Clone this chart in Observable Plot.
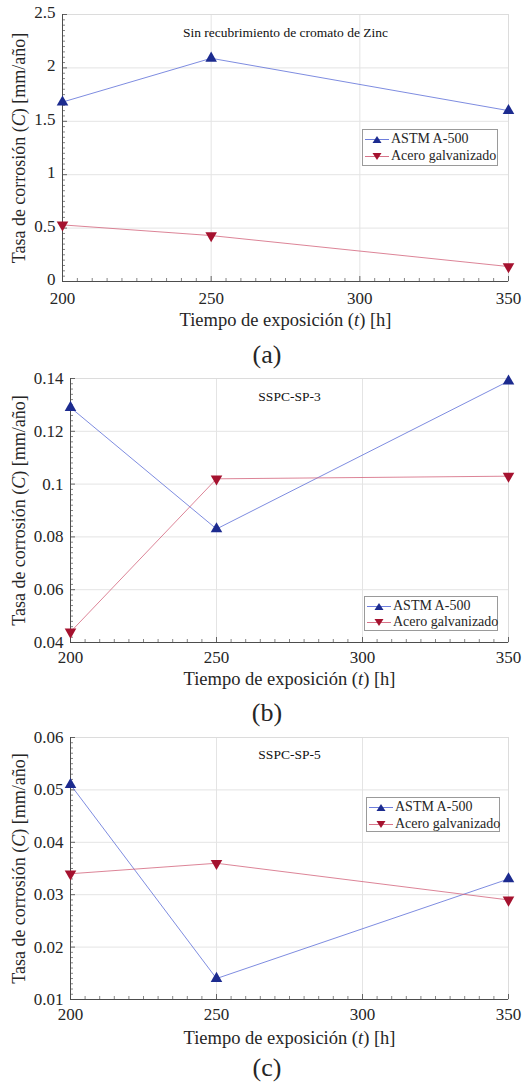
<!DOCTYPE html>
<html>
<head>
<meta charset="utf-8">
<script src="https://cdn.jsdelivr.net/npm/d3@7"></script>
<script src="https://cdn.jsdelivr.net/npm/@observablehq/plot@0.6"></script>
<style>
  html, body { margin: 0; padding: 0; background: #fff; }
  #wrap { position: relative; width: 526px; height: 1085px; font-family: "Liberation Serif", "Times New Roman", "DejaVu Serif", serif; color: #262626; }
  .panel { position: absolute; left: 0; font-family: "Liberation Serif", "Times New Roman", "DejaVu Serif", serif; }
  .caption { position: absolute; left: 0; width: 534px; text-align: center; font-size: 26px; line-height: 26px; }
  .legend { position: absolute; background: #fff; border: 1px solid #9a9a9a; box-sizing: border-box; font-size: 14px; }
  .legend .row { position: absolute; left: 0; height: 17px; display: flex; align-items: center; white-space: nowrap; }
  .legend svg { display: block; }
</style>
</head>
<body>
<div id="wrap"></div>
<script>
// ---- data ----
const times = [200, 250, 350];
const seriesNames = ["ASTM A-500", "Acero galvanizado"];
const xTicks = [200, 250, 300, 350];

const aAstm = [1.68, 2.09, 1.60];
const aGalv = [0.53, 0.43, 0.14];
const aTicks = [0, 0.5, 1, 1.5, 2, 2.5];

const bAstm = [0.129, 0.083, 0.139];
const bGalv = [0.044, 0.102, 0.103];
const bTicks = [0.04, 0.06, 0.08, 0.1, 0.12, 0.14];

const cAstm = [0.051, 0.014, 0.033];
const cGalv = [0.034, 0.036, 0.029];
const cTicks = [0.01, 0.02, 0.03, 0.04, 0.05, 0.06];

const titles = ["Sin recubrimiento de cromato de Zinc", "SSPC-SP-3", "SSPC-SP-5"];
const captions = ["(a)", "(b)", "(c)"];
const xLabel = "Tiempo de exposición (t) [h]";
const yLabel = "Tasa de corrosión (C) [mm/año]";

// ---- styling ----
const FONT = '"Liberation Serif", "Times New Roman", "DejaVu Serif", serif';
const blueLine = "#5d6fd8", blueMark = "#1c2b8f";
const redLine = "#d3647c", redMark = "#a5122f";
const W = 526;

function minorTicks(ticks, n) {
  const out = [];
  for (let i = 0; i < ticks.length - 1; i++) {
    const step = (ticks[i + 1] - ticks[i]) / n;
    for (let k = 1; k < n; k++) out.push(ticks[i] + k * step);
  }
  return out;
}
const fmt = d => String(+d.toFixed(4));

function panel(cfg) {
  const {astm, galv, yTicks, title, top, height, mt, mb, ml, mr, xLabelOffset, yLabelOffset, titleDy, xPad, yDy} = cfg;
  const yDomain = [yTicks[0], yTicks[yTicks.length - 1]];
  const plotH = height - mt - mb;
  const plotW = W - ml - mr;
  const rows = times.map((t, i) => ({t, v: astm[i], s: seriesNames[0]}));
  const rowsG = times.map((t, i) => ({t, v: galv[i], s: seriesNames[1]}));
  const xMinor = minorTicks(xTicks, 10);
  const yMinor = minorTicks(yTicks, 10);
  const chart = Plot.plot({
    width: W, height,
    marginTop: mt, marginBottom: mb, marginLeft: ml, marginRight: mr,
    style: {fontFamily: FONT, fontSize: "17px", background: "transparent", color: "#262626", overflow: "visible"},
    x: {domain: [200, 350]},
    y: {domain: yDomain},
    marks: [
      Plot.gridX(xTicks, {stroke: "#e4e4e4", strokeOpacity: 1}),
      Plot.gridY(yTicks, {stroke: "#e4e4e4", strokeOpacity: 1}),
      Plot.frame({stroke: "#dcdcdc"}),
      Plot.ruleX(xMinor, {stroke: "#666", strokeWidth: 0.8, insetTop: plotH - 3}),
      Plot.ruleX(xTicks, {stroke: "#555", strokeWidth: 0.9, insetTop: plotH - 5}),
      Plot.ruleY(yMinor, {stroke: "#666", strokeWidth: 0.8, insetRight: plotW - 3}),
      Plot.ruleY(yTicks, {stroke: "#555", strokeWidth: 0.9, insetRight: plotW - 5}),
      Plot.ruleX([200], {stroke: "#4d4d4d", strokeWidth: 1}),
      Plot.ruleY([yDomain[0]], {stroke: "#4d4d4d", strokeWidth: 1}),
      Plot.axisX({ticks: xTicks, tickSize: 0, tickPadding: xPad, tickFormat: fmt, fontSize: 17,
        label: xLabel, labelAnchor: "center", labelOffset: xLabelOffset, labelArrow: "none"}),
      Plot.axisY({ticks: yTicks, tickSize: 0, tickPadding: 7, dy: yDy, tickFormat: fmt, fontSize: 17,
        label: yLabel, labelAnchor: "center", labelOffset: yLabelOffset, labelArrow: "none"}),
      Plot.line(rows, {x: "t", y: "v", stroke: blueLine, strokeWidth: 0.8}),
      Plot.line(rowsG, {x: "t", y: "v", stroke: redLine, strokeWidth: 0.8}),
      Plot.dot(rows, {x: "t", y: "v", symbol: "triangle", fill: blueMark, r: 4.3, clip: false}),
      Plot.dot(rowsG, {x: "t", y: "v", symbol: "triangle", rotate: 180, fill: redMark, r: 4.3, clip: false}),
      Plot.text([title], {text: d => d, frameAnchor: "top", dy: titleDy, fontSize: 13.5, fill: "#111"})
    ]
  });
  chart.classList.add("panel");
  chart.style.top = top + "px";
  chart.setAttribute("font-family", FONT);
  // italic variables in axis labels
  const xl = chart.querySelector('[aria-label="x-axis label"] text');
  if (xl) { xl.innerHTML = 'Tiempo de exposición (<tspan font-style="italic">t</tspan>) [h]'; xl.setAttribute("font-size", "18.5"); }
  const yl = chart.querySelector('[aria-label="y-axis label"] text');
  if (yl) { yl.innerHTML = 'Tasa de corrosión (<tspan font-style="italic">C</tspan>) [mm/año]'; yl.setAttribute("font-size", "18"); }
  return chart;
}

function legend(box) {
  const div = document.createElement("div");
  div.className = "legend";
  Object.assign(div.style, {left: box.x + "px", top: box.y + "px", width: box.w + "px", height: box.h + "px"});
  const items = [
    {name: seriesNames[0], line: blueLine, mark: blueMark, down: false},
    {name: seriesNames[1], line: redLine, mark: redMark, down: true}
  ];
  items.forEach((it, i) => {
    const row = document.createElement("div");
    row.className = "row";
    row.style.top = (box.rowY[i] - 8.5) + "px";
    row.innerHTML = `<svg width="28" height="17" viewBox="0 0 28 17"><line x1="2" y1="8.5" x2="26" y2="8.5" stroke="${it.line}" stroke-width="0.9"/>` +
      `<polygon points="${it.down ? "9.5,5 18.5,5 14,12" : "9.5,12 18.5,12 14,5"}" fill="${it.mark}"/></svg><span>${it.name}</span>`;
    div.appendChild(row);
  });
  return div;
}

const wrap = document.getElementById("wrap");
const cfgs = [
  {astm: aAstm, galv: aGalv, yTicks: aTicks, title: titles[0], top: 0, height: 340, mt: 14, mb: 59, ml: 62, mr: 18, xLabelOffset: 44, yLabelOffset: 50, titleDy: 13, xPad: 10, yDy: -2,
   legend: {x: 362, y: 129, w: 136, h: 37, rowY: [9, 26]}, capY: 355},
  {astm: bAstm, galv: bGalv, yTicks: bTicks, title: titles[1], top: 365, height: 340, mt: 13, mb: 63, ml: 70, mr: 18, xLabelOffset: 42, yLabelOffset: 58, titleDy: 13, xPad: 8.5, yDy: 0,
   legend: {x: 364, y: 596, w: 134, h: 35, rowY: [9, 25]}, capY: 713},
  {astm: cAstm, galv: cGalv, yTicks: cTicks, title: titles[2], top: 725, height: 340, mt: 12, mb: 66, ml: 70, mr: 18, xLabelOffset: 44, yLabelOffset: 58, titleDy: 12, xPad: 8.5, yDy: 0,
   legend: {x: 366, y: 797, w: 134, h: 35, rowY: [9, 26]}, capY: 1068}
];
cfgs.forEach((c, i) => {
  wrap.appendChild(panel(c));
  wrap.appendChild(legend(c.legend));
  const cap = document.createElement("div");
  cap.className = "caption";
  cap.style.top = (c.capY - 13) + "px";
  cap.textContent = captions[i];
  wrap.appendChild(cap);
});
</script>
</body>
</html>
